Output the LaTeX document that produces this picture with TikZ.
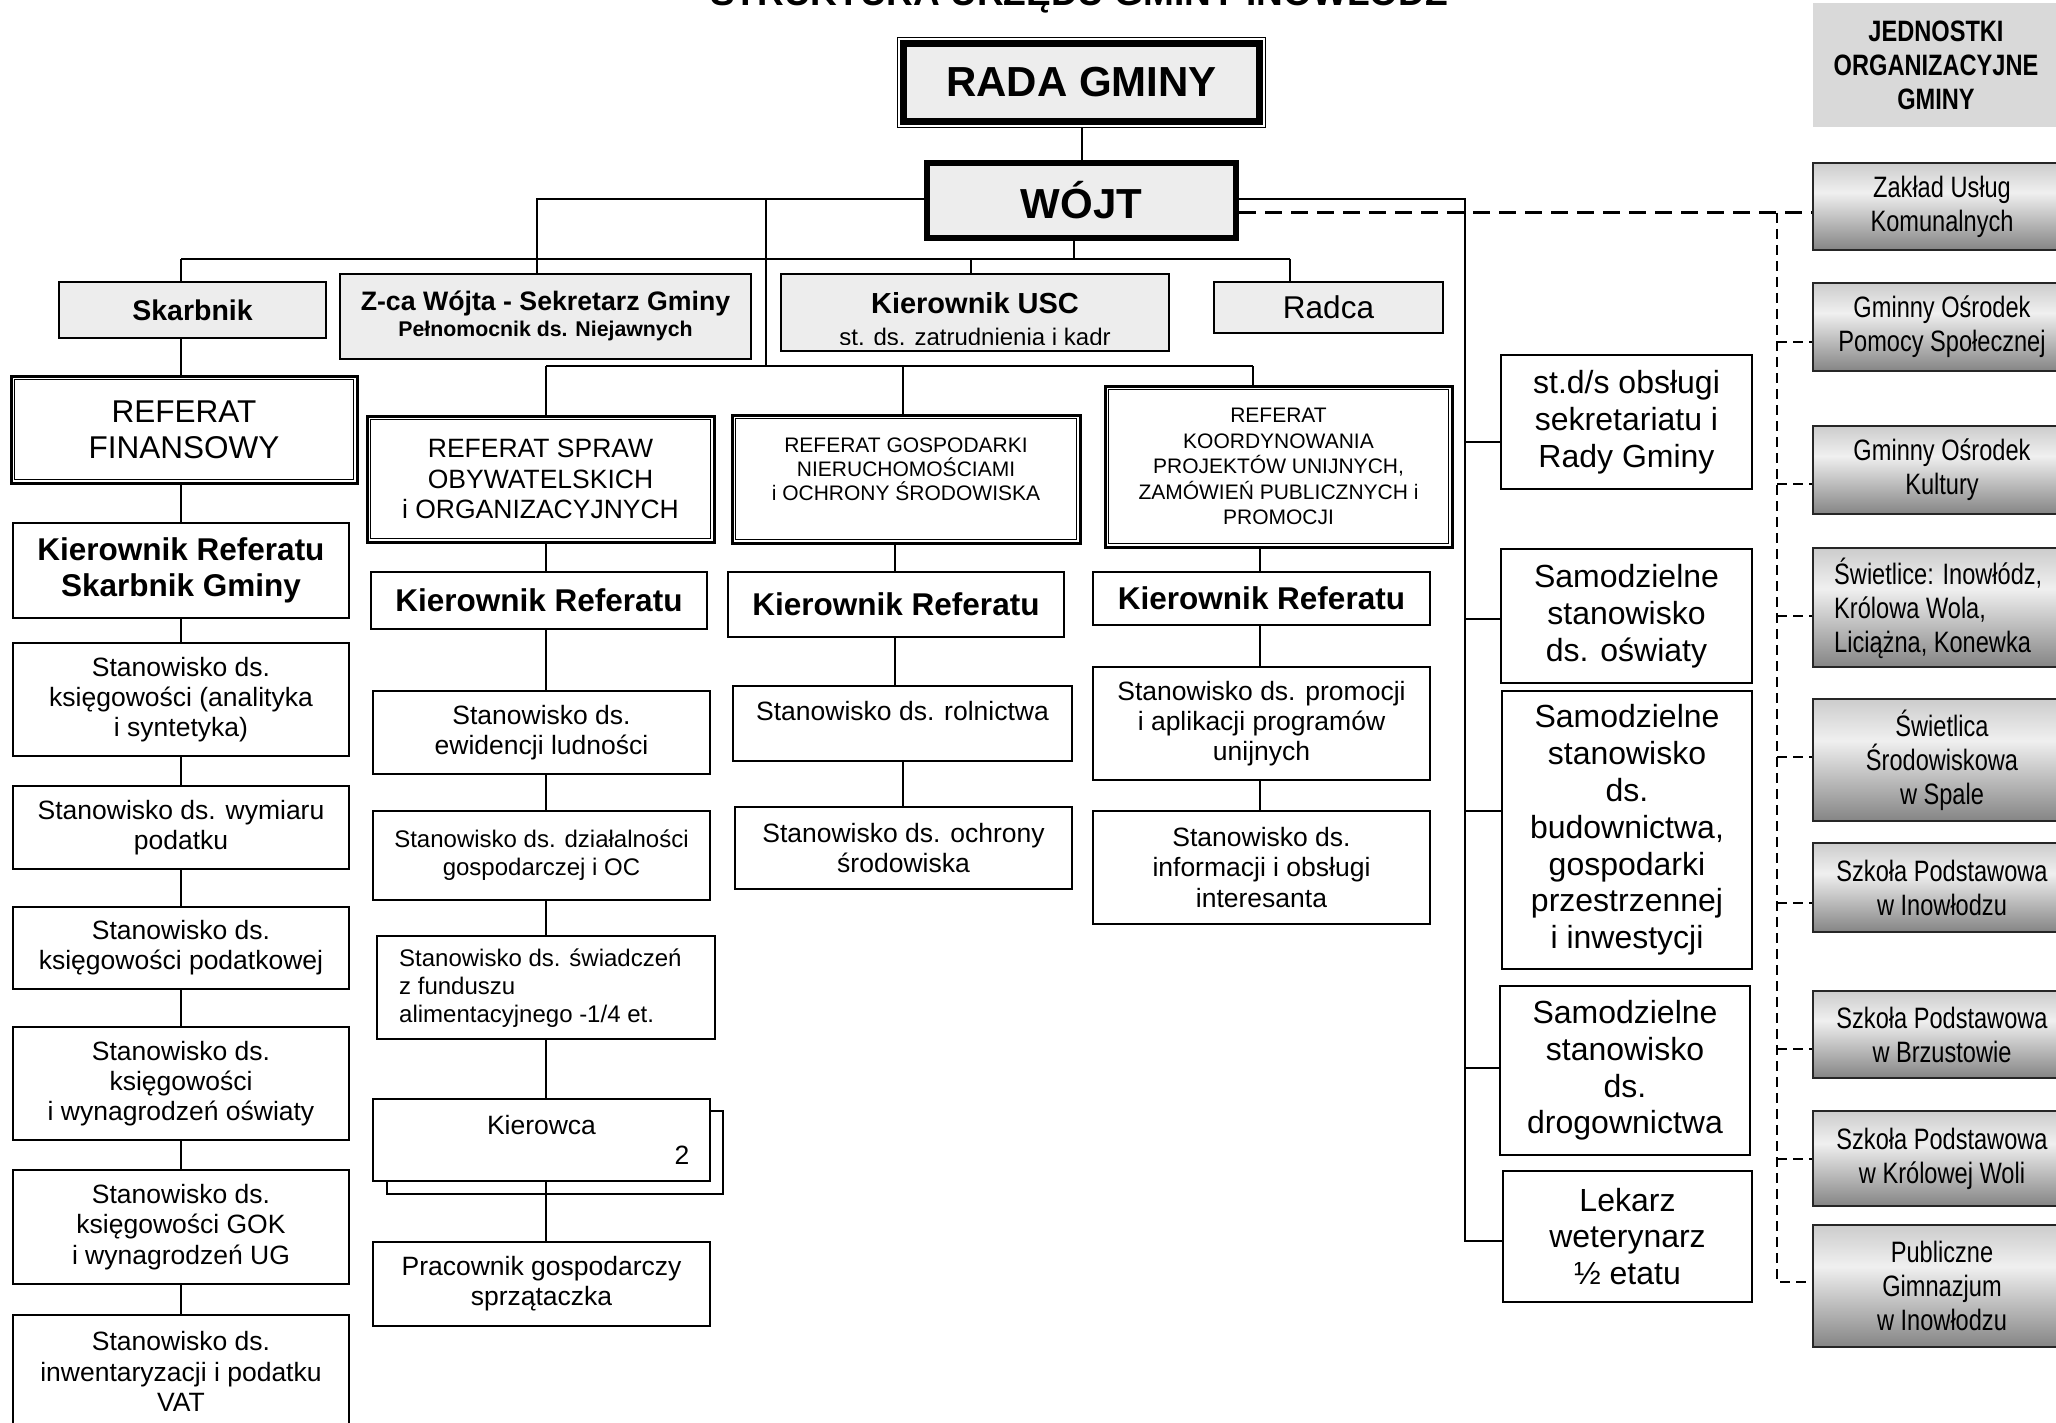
\documentclass[tikz,border=0pt]{standalone}
\usepackage{fontspec}
\setmainfont{Liberation Sans}
\newfontfamily\narrowfont[FakeStretch=0.8]{Liberation Sans}
\usetikzlibrary{calc}
\newcommand\fsz[2]{\fontsize{#1}{#2}\selectfont}
\newcommand\mybox[7]{\node[#2, minimum width={(#5-#3)*1pt}, minimum height={(#6-#4)*1pt}] (#1) at ({(#3+#5)/2},{(#4+#6)/2}) {#7};}
\newcommand\vconn[3]{\draw[conn] (#1.south -| #3) -- (#2.north -| #3);}
\pgfdeclareverticalshading{unitsh}{100bp}{color(0bp)=(black!48); color(25bp)=(black!48); color(58bp)=(black!6); color(75bp)=(black!20); color(100bp)=(black!20)}
\tikzset{
  bx/.style={draw=black, line width=1.8pt, fill=white, inner sep=0pt, align=center, font=\fsz{26.5}{30.2}},
  topbx/.style={bx, fill=black!7, line width=2.4pt},
  refbx/.style={draw=black, line width=3pt, fill=white, inner sep=0pt, align=center},
  kbx/.style={bx, font=\bfseries\fsz{31.5}{35.5}},
  rbx/.style={bx, font=\fsz{32}{36.8}},
  unitbx/.style={draw=black!85, line width=2.4pt, inner sep=0pt, align=center, shading=unitsh, font=\narrowfont\fsz{29.5}{34}},
  conn/.style={line width=2pt},
  mdash/.style={line width=3pt, dash pattern=on 17pt off 9pt},
  sdash/.style={line width=2pt, dash pattern=on 10pt off 6pt},
  lbl/.style={inner sep=0pt, align=center},
}
\begin{document}
\begin{tikzpicture}[x=1pt,y=-1pt]
\useasboundingbox (0,0) rectangle (2056,1423);
\fill[white] (0,0) rectangle (2056,1423);
\clip (0,0) rectangle (2056,1423);

% title
\node[lbl, anchor=base, font=\bfseries\fsz{37}{40}] (title) at (1079,6) {STRUKTURA URZĘDU GMINY INOWŁÓDZ};

% rada / wojt
\mybox{rada}{bx, line width=1.5pt}{897.5}{37.5}{1265.5}{127.5}{}
\draw[line width=7pt, fill=black!7] ($(rada.south west)+(7,-7)$) rectangle ($(rada.north east)+(-7,7)$);
\node[lbl, font=\bfseries\fsz{42}{46}] (radat) at (rada) {RADA GMINY};
\mybox{wojt}{topbx, line width=6pt, font=\bfseries\fsz{42}{46}}{927}{163}{1236}{238}{WÓJT}

% top boxes
\mybox{skarbnik}{topbx, font=\bfseries\fsz{28.5}{32}}{59}{282}{326}{338}{Skarbnik}
\mybox{zca}{topbx}{340}{274}{751}{359}{}
\node[lbl, anchor=base, font=\bfseries\fsz{26.7}{30}] (zcat1) at (545.5,311) {Z-ca Wójta - Sekretarz Gminy};
\node[lbl, anchor=base, font=\bfseries\fsz{21.3}{24}] (zcat2) at (545.5,336) {Pełnomocnik ds. Niejawnych};
\mybox{usc}{topbx}{781}{274}{1169}{351}{}
\node[lbl, anchor=base, font=\bfseries\fsz{29}{32}] (usct1) at (975,313) {Kierownik USC};
\begin{scope}
\clip (783,276) rectangle (1167,344);
\node[lbl, anchor=base, font=\fsz{24}{28}] (usct2) at (975,345) {st. ds. zatrudnienia i kadr};
\end{scope}
\mybox{radca}{topbx, font=\fsz{31.5}{36}}{1214}{282}{1443}{333}{Radca}

% referaty
\mybox{reffin}{refbx, font=\fsz{31.5}{36}}{11}{376}{357}{483}{REFERAT\\FINANSOWY}
\draw[line width=1.5pt] ($(reffin.south west)+(5,-5)$) rectangle ($(reffin.north east)+(-5,5)$);
\mybox{refspraw}{refbx, font=\fsz{26.5}{30.5}}{367}{416}{714}{542}{REFERAT SPRAW\\OBYWATELSKICH\\i ORGANIZACYJNYCH}
\draw[line width=1.5pt] ($(refspraw.south west)+(5,-5)$) rectangle ($(refspraw.north east)+(-5,5)$);
\mybox{refgosp}{refbx}{732}{415}{1080}{543}{}
\draw[line width=1.5pt] ($(refgosp.south west)+(5,-5)$) rectangle ($(refgosp.north east)+(-5,5)$);
\node[lbl, font=\fsz{21}{24}] (refgospt) at (906,469) {REFERAT GOSPODARKI\\NIERUCHOMOŚCIAMI\\i OCHRONY ŚRODOWISKA};
\mybox{refkoord}{refbx, font=\fsz{21}{25.5}}{1105}{386}{1452}{547}{REFERAT\\KOORDYNOWANIA\\PROJEKTÓW UNIJNYCH,\\ZAMÓWIEŃ PUBLICZNYCH i\\PROMOCJI}
\draw[line width=1.5pt] ($(refkoord.south west)+(5,-5)$) rectangle ($(refkoord.north east)+(-5,5)$);

% kierownicy
\mybox{kfin}{kbx}{13}{523}{349}{618}{Kierownik Referatu\\Skarbnik Gminy}
\mybox{kspraw}{kbx}{371}{572}{707}{629}{Kierownik Referatu}
\mybox{kgosp}{kbx}{728}{572}{1064}{637}{Kierownik Referatu}
\mybox{kkoord}{kbx}{1093}{572}{1430}{625}{Kierownik Referatu}

% left column
\mybox{s1}{bx}{13}{643}{349}{756}{Stanowisko ds.\\księgowości (analityka\\i syntetyka)}
\mybox{s2}{bx}{13}{786}{349}{869}{Stanowisko ds. wymiaru\\podatku}
\mybox{s3}{bx}{13}{907}{349}{989}{Stanowisko ds.\\księgowości podatkowej}
\mybox{s4}{bx}{13}{1027}{349}{1140}{Stanowisko ds.\\księgowości\\i wynagrodzeń oświaty}
\mybox{s5}{bx}{13}{1170}{349}{1284}{Stanowisko ds.\\księgowości GOK\\i wynagrodzeń UG}
\mybox{s6}{bx}{13}{1315}{349}{1428}{Stanowisko ds.\\inwentaryzacji i podatku\\VAT}

% spraw column
\mybox{e1}{bx}{373}{691}{710}{774}{Stanowisko ds.\\ewidencji ludności}
\mybox{e2}{bx, font=\fsz{24}{28}}{373}{811}{710}{900}{Stanowisko ds. działalności\\gospodarczej i OC}
\mybox{e3}{bx}{377}{936}{715}{1039}{}
\node[lbl, align=left, anchor=west, font=\fsz{24}{28}] (e3t) at (399,988) {Stanowisko ds. świadczeń\\z funduszu\\alimentacyjnego -1/4 et.};
\mybox{kiers}{bx}{387}{1111}{723}{1194}{}
\mybox{kier}{bx}{373}{1099}{710}{1181}{}
\node[lbl, font=\fsz{26.5}{30}] (kiert1) at (541.5,1125) {Kierowca};
\node[lbl, font=\fsz{26.5}{30}] (kiert2) at (682,1155) {2};
\mybox{e5}{bx}{373}{1242}{710}{1326}{Pracownik gospodarczy\\sprzątaczka}

% gosp column
\mybox{g1}{bx}{733}{686}{1072}{761}{}
\node[lbl, font=\fsz{26.5}{30}] (g1t) at (902.5,711) {Stanowisko ds. rolnictwa};
\mybox{g2}{bx}{735}{807}{1072}{889}{Stanowisko ds. ochrony\\środowiska}

% koord column
\mybox{p1}{bx}{1093}{667}{1430}{780}{Stanowisko ds. promocji\\i aplikacji programów\\unijnych}
\mybox{p2}{bx}{1093}{811}{1430}{924}{Stanowisko ds.\\informacji i obsługi\\interesanta}

% right solid column
\mybox{r1}{rbx}{1501}{355}{1752}{489}{st.d/s obsługi\\sekretariatu i\\Rady Gminy}
\mybox{r2}{rbx}{1501}{549}{1752}{683}{Samodzielne\\stanowisko\\ds. oświaty}
\mybox{r3}{rbx}{1502}{691}{1752}{969}{Samodzielne\\stanowisko\\ds.\\budownictwa,\\gospodarki\\przestrzennej\\i inwestycji}
\mybox{r4}{rbx}{1500}{986}{1750}{1155}{Samodzielne\\stanowisko\\ds.\\drogownictwa}
\mybox{r5}{rbx}{1503}{1171}{1752}{1302}{Lekarz\\weterynarz\\½ etatu}

% units
\mybox{u0}{lbl, fill=black!15, font=\narrowfont\bfseries\fsz{29.5}{34}}{1813}{3}{2059}{127}{JEDNOSTKI\\ORGANIZACYJNE\\GMINY}
\mybox{u1}{unitbx}{1813}{163}{2071}{250}{Zakład Usług\\Komunalnych}
\mybox{u2}{unitbx}{1813}{283}{2071}{371}{Gminny Ośrodek\\Pomocy Społecznej}
\mybox{u3}{unitbx}{1813}{426}{2071}{514}{Gminny Ośrodek\\Kultury}
\mybox{u4}{unitbx}{1813}{548}{2071}{667}{}
\node[lbl, align=left, anchor=west, font=\narrowfont\fsz{29.5}{34}] (u4t) at (1834,608) {Świetlice: Inowłódz,\\Królowa Wola,\\Liciążna, Konewka};
\mybox{u5}{unitbx}{1813}{699}{2071}{821}{Świetlica\\Środowiskowa\\w Spale}
\mybox{u6}{unitbx}{1813}{843}{2071}{932}{Szkoła Podstawowa\\w Inowłodzu}
\mybox{u7}{unitbx}{1813}{991}{2071}{1078}{Szkoła Podstawowa\\w Brzustowie}
\mybox{u8}{unitbx}{1813}{1111}{2071}{1206}{Szkoła Podstawowa\\w Królowej Woli}
\mybox{u9}{unitbx}{1813}{1225}{2071}{1347}{Publiczne\\Gimnazjum\\w Inowłodzu}

% column coordinates
\coordinate (xL) at (181,0);
\coordinate (xS) at (546,0);
\coordinate (xG1) at (895,0);
\coordinate (xG2) at (903,0);
\coordinate (xK) at (1260,0);

% rada - wojt
\draw[conn] (rada) -- (wojt);

% wojt left
\coordinate (jW) at (537,199);
\draw[conn] (wojt.west |- jW) -- (jW) -- (zca.north -| jW);
\coordinate (jZ1) at (766,199);
\coordinate (jZ2) at (766,366);
\draw[conn] (jZ1) -- (jZ2);
\coordinate (hS) at (546,366);
\coordinate (hG) at (903,366);
\coordinate (hK) at (1253,366);
\draw[conn] (hS) -- (hK);
\draw[conn] (hS) -- (refspraw.north -| hS);
\draw[conn] (hG) -- (refgosp.north -| hG);
\draw[conn] (hK) -- (refkoord.north -| hK);

% wojt bottom
\coordinate (jB) at (1074,259);
\draw[conn] (wojt.south -| jB) -- (jB);
\coordinate (hL) at (181,259);
\coordinate (hU) at (971,259);
\coordinate (hR) at (1290,259);
\draw[conn] (hL) -- (hR);
\draw[conn] (hL) -- (skarbnik.north -| hL);
\draw[conn] (hU) -- (usc.north -| hU);
\draw[conn] (hR) -- (radca.north -| hR);

% left column chain
\vconn{skarbnik}{reffin}{xL}
\vconn{reffin}{kfin}{xL}
\vconn{kfin}{s1}{xL}
\vconn{s1}{s2}{xL}
\vconn{s2}{s3}{xL}
\vconn{s3}{s4}{xL}
\vconn{s4}{s5}{xL}
\vconn{s5}{s6}{xL}

% spraw chain
\vconn{refspraw}{kspraw}{xS}
\vconn{kspraw}{e1}{xS}
\vconn{e1}{e2}{xS}
\vconn{e2}{e3}{xS}
\vconn{e3}{kier}{xS}
\vconn{kier}{e5}{xS}

% gosp chain
\vconn{refgosp}{kgosp}{xG1}
\vconn{kgosp}{g1}{xG1}
\vconn{g1}{g2}{xG2}

% koord chain
\vconn{refkoord}{kkoord}{xK}
\vconn{kkoord}{p1}{xK}
\vconn{p1}{p2}{xK}

% right solid trunk
\coordinate (jR1) at (1465,199);
\coordinate (jR2) at (1465,1241);
\draw[conn] (wojt.east |- jR1) -- (jR1) -- (jR2) -- (r5.west |- jR2);
\foreach \nm/\yy in {r1/442, r2/619, r3/811, r4/1068} {
  \coordinate (t\nm) at (1465,\yy);
  \draw[conn] (t\nm) -- (\nm.west |- t\nm);
}

% dashed units
\coordinate (dA) at (1777,213);
\coordinate (dB) at (1777,1282);
\draw[mdash] (wojt.east |- dA) -- (u1.west |- dA);
\draw[sdash] (dA) -- (dB) -- (u9.west |- dB);
\foreach \nm/\yy in {u2/342, u3/484, u4/616, u5/757, u6/903, u7/1049, u8/1159} {
  \coordinate (d\nm) at (1777,\yy);
  \draw[sdash] (d\nm) -- (\nm.west |- d\nm);
}
\end{tikzpicture}
\end{document}
